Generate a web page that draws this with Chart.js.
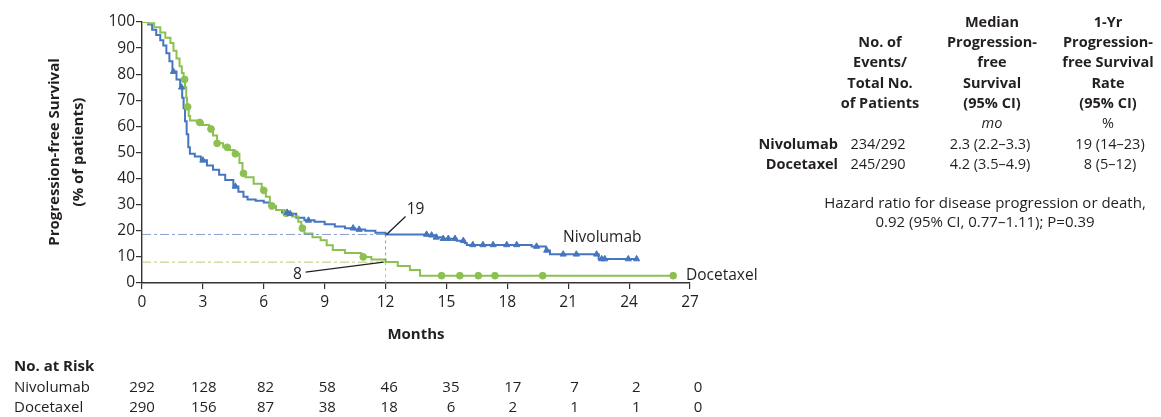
<!DOCTYPE html>
<html>
<head>
<meta charset="utf-8">
<script src="https://cdn.jsdelivr.net/npm/chart.js@4"></script>
<style>
  html, body { margin: 0; padding: 0; background: #fff; }
  #wrap { width: 1161px; height: 417px; position: relative; }
</style>
</head>
<body>
<div id="wrap"><canvas id="kmChart" width="1161" height="417"></canvas></div>
<script>
// Kaplan-Meier curves: [month, % progression-free]
var nivolumab = [
  [0, 100], [0.3, 99], [0.5, 97], [0.7, 95], [0.9, 93], [1.05, 91], [1.2, 88], [1.35, 85],
  [1.5, 81], [1.7, 78], [1.88, 75], [1.98, 71], [2.05, 67], [2.12, 62], [2.2, 57], [2.28, 52],
  [2.36, 49.5], [2.6, 48.5], [2.9, 47], [3.2, 45], [3.5, 43.4], [3.8, 41.5], [4.1, 39.5],
  [4.5, 37], [4.75, 35], [5.0, 33], [5.2, 32], [5.6, 31.5], [6.0, 30.8], [6.3, 29.5], [6.6, 28],
  [6.9, 27], [7.2, 26.5], [7.6, 25], [8.0, 24], [8.5, 23.5], [9.0, 22.5], [9.5, 21.6], [10.0, 21],
  [10.5, 20.5], [11.0, 20], [11.5, 19.3], [12.0, 18.6], [14.1, 18.3], [14.5, 17.5], [14.8, 17],
  [15.5, 16.2], [15.9, 15.3], [16.0, 14.6], [19.2, 14], [19.9, 12.5], [20.1, 11], [22.5, 9.2], [24.4, 9.2]
];
var docetaxel = [
  [0, 100], [0.3, 99.5], [0.6, 98], [0.9, 96], [1.15, 94], [1.4, 92], [1.55, 89], [1.7, 86],
  [1.85, 83], [1.96, 80.5], [2.05, 78], [2.12, 75], [2.18, 71], [2.22, 67.5], [2.3, 64], [2.37, 62.3],
  [2.7, 61.5], [3.0, 60.5], [3.3, 59], [3.5, 56.5], [3.7, 53.5], [4.0, 52], [4.3, 51], [4.55, 49.5],
  [4.8, 46], [4.95, 42], [5.1, 40.5], [5.5, 38], [5.9, 35.5], [6.1, 33], [6.3, 29.5], [6.6, 28],
  [7.0, 26.7], [7.4, 25.5], [7.7, 23.5], [7.85, 21], [8.0, 19], [8.4, 17.5], [8.8, 16.4], [9.1, 14.5],
  [9.4, 12.6], [10.0, 11.5], [10.8, 10], [11.3, 9], [12.0, 8], [12.6, 6.5], [13.2, 5], [13.7, 2.8], [26.2, 2.8]
];
// censoring times (months)
var nivolumabCensor = [1.55, 1.95, 3.0, 4.6, 7.15, 7.3, 8.2, 10.4, 10.7, 14.02, 14.27, 14.5, 14.84,
  15.09, 15.42, 15.83, 16.3, 16.8, 17.3, 17.97, 18.46, 19.44, 19.94, 20.75, 21.4, 22.4, 22.65, 22.8, 23.96, 24.37];
var docetaxelCensor = [2.1, 2.25, 2.85, 3.4, 3.7, 4.2, 4.6, 5.0, 6.0, 6.4, 7.1, 7.9, 10.9,
  14.76, 15.66, 16.57, 17.39, 19.74, 26.17];

var xTicks = [0, 3, 6, 9, 12, 15, 18, 21, 24, 27];
var yTicks = [0, 10, 20, 30, 40, 50, 60, 70, 80, 90, 100];
var riskNivolumab = [292, 128, 82, 58, 46, 35, 17, 7, 2, 0];
var riskDocetaxel = [290, 156, 87, 38, 18, 6, 2, 1, 1, 0];

var landmarkMonth = 12;
var nivolumabAt12 = 19;
var docetaxelAt12 = 8;

var tableHeader = [
  ['No. of', 'Events/', 'Total No.', 'of Patients'],
  ['Median', 'Progression-', 'free', 'Survival', '(95% CI)'],
  ['1-Yr', 'Progression-', 'free Survival', 'Rate', '(95% CI)']
];
var tableUnits = ['', 'mo', '%'];
var tableRows = [
  ['Nivolumab', '234/292', '2.3 (2.2\u20133.3)', '19 (14\u201323)'],
  ['Docetaxel', '245/290', '4.2 (3.5\u20134.9)', '8 (5\u201312)']
];
var hazardText = ['Hazard ratio for disease progression or death,', '0.92 (95% CI, 0.77\u20131.11); P=0.39'];

var BLUE = '#4676bf';
var GREEN = '#8cc152';
var INK = '#231f20';
var FONT = '"Open Sans", "Noto Sans", sans-serif';

function toPoints(arr) {
  return arr.map(function(p) { return { x: p[0], y: p[1] }; });
}
function censorPoints(curve, times) {
  return times.map(function(t) {
    var y = curve[0][1];
    for (var i = 0; i < curve.length; i++) {
      if (curve[i][0] <= t) y = curve[i][1];
    }
    return { x: t, y: y };
  });
}

var extras = {
  id: 'extras',
  afterDatasetsDraw: function(chart) {
    var ctx = chart.ctx;
    var xs = chart.scales.x, ys = chart.scales.y;
    var x12 = xs.getPixelForValue(landmarkMonth);
    var yN = ys.getPixelForValue(18.6);
    var yD = ys.getPixelForValue(docetaxelAt12);
    var x0 = xs.getPixelForValue(0);
    var yBase = ys.getPixelForValue(0);

    ctx.save();
    ctx.lineWidth = 1;
    ctx.setLineDash([9, 3, 3, 3]);
    ctx.strokeStyle = 'rgba(100,125,185,0.75)';
    ctx.beginPath(); ctx.moveTo(x0, yN); ctx.lineTo(x12, yN); ctx.stroke();
    ctx.setLineDash([3, 3]);
    ctx.beginPath(); ctx.moveTo(x12, yN); ctx.lineTo(x12, yD); ctx.stroke();
    ctx.setLineDash([9, 3, 3, 3]);
    ctx.strokeStyle = 'rgba(170,195,90,0.85)';
    ctx.beginPath(); ctx.moveTo(x0, yD); ctx.lineTo(x12, yD); ctx.stroke();
    ctx.setLineDash([3, 3]);
    ctx.beginPath(); ctx.moveTo(x12, yD); ctx.lineTo(x12, yBase); ctx.stroke();
    ctx.setLineDash([]);

    // leader lines and labels
    ctx.strokeStyle = '#222';
    ctx.lineWidth = 1.3;
    ctx.beginPath(); ctx.moveTo(x12 + 1, yN); ctx.lineTo(x12 + 20, yN - 18); ctx.stroke();
    ctx.beginPath(); ctx.moveTo(x12 - 2, yD); ctx.lineTo(x12 - 80, yD + 10); ctx.stroke();
    ctx.fillStyle = INK;
    ctx.font = '15.5px ' + FONT;
    ctx.textBaseline = 'middle';
    ctx.textAlign = 'center';
    ctx.fillText(String(nivolumabAt12), x12 + 30, yN - 25);
    ctx.fillText(String(docetaxelAt12), x12 - 88, yD + 12);

    ctx.textAlign = 'left';
    ctx.fillText('Nivolumab', 563, 238);
    ctx.fillText('Docetaxel', 686, 276);

    // axis titles
    ctx.font = 'bold 15px ' + FONT;
    ctx.textAlign = 'center';
    ctx.fillText('Months', xs.getPixelForValue(13.5), 335);
    ctx.save();
    ctx.translate(55, 152);
    ctx.rotate(-Math.PI / 2);
    ctx.fillText('Progression-free Survival', 0, 0);
    ctx.fillText('(% of patients)', 0, 24);
    ctx.restore();

    // number at risk
    ctx.textAlign = 'left';
    ctx.font = 'bold 15px ' + FONT;
    ctx.fillText('No. at Risk', 14, 367);
    ctx.font = '15px ' + FONT;
    ctx.fillText('Nivolumab', 14, 388);
    ctx.fillText('Docetaxel', 14, 408);
    ctx.textAlign = 'center';
    xTicks.forEach(function(t, i) {
      var px = xs.getPixelForValue(t) + i * 0.9;
      ctx.fillText(String(riskNivolumab[i]), px, 388);
      ctx.fillText(String(riskDocetaxel[i]), px, 408);
    });

    // summary table
    var colX = [880, 992, 1108];
    var lineH = 20.4;
    ctx.font = 'bold 14.5px ' + FONT;
    tableHeader.forEach(function(lines, c) {
      var start = 104 - (lines.length - 1) * lineH;
      lines.forEach(function(s, k) { ctx.fillText(s, colX[c], start + k * lineH); });
    });
    ctx.font = 'italic 14.5px ' + FONT;
    ctx.fillText(tableUnits[1], colX[1], 124);
    ctx.font = '14.5px ' + FONT;
    ctx.fillText(tableUnits[2], colX[2], 124);
    tableRows.forEach(function(r, k) {
      var yy = 145 + k * 20;
      ctx.font = 'bold 14.5px ' + FONT;
      ctx.textAlign = 'right';
      ctx.fillText(r[0], 838, yy);
      ctx.font = '14.5px ' + FONT;
      ctx.textAlign = 'center';
      ctx.fillText(r[1], colX[0] - 2, yy);
      ctx.fillText(r[2], colX[1] - 2, yy);
      ctx.fillText(r[3], colX[2] + 2, yy);
    });
    ctx.font = '15px ' + FONT;
    ctx.fillText(hazardText[0], 985, 204);
    ctx.fillText(hazardText[1], 985, 223);
    ctx.restore();
  }
};

var canvas = document.getElementById('kmChart');
var ctx = canvas.getContext('2d');
var kmChart = new Chart(ctx, {
  type: 'line',
  data: {
    datasets: [
      {
        label: 'Nivolumab', data: toPoints(nivolumab), borderColor: BLUE, borderWidth: 2,
        stepped: true, pointRadius: 0, fill: false, order: 2
      },
      {
        label: 'Docetaxel', data: toPoints(docetaxel), borderColor: GREEN, borderWidth: 2,
        stepped: true, pointRadius: 0, fill: false, order: 1
      },
      {
        type: 'scatter', label: 'Nivolumab censored', data: censorPoints(nivolumab, nivolumabCensor),
        pointStyle: 'triangle', pointRadius: 3.6, backgroundColor: BLUE, borderColor: BLUE, borderWidth: 1
      },
      {
        type: 'scatter', label: 'Docetaxel censored', data: censorPoints(docetaxel, docetaxelCensor),
        pointStyle: 'circle', pointRadius: 3.4, backgroundColor: GREEN, borderColor: GREEN, borderWidth: 1
      }
    ]
  },
  options: {
    responsive: false,
    animation: false,
    layout: { padding: { left: 0, top: 22, right: 471, bottom: 104 } },
    plugins: { legend: { display: false }, tooltip: { enabled: false } },
    scales: {
      x: {
        type: 'linear', min: 0, max: 27,
        afterFit: function(s) { s.height = 30; },
        afterBuildTicks: function(s) { s.ticks = xTicks.map(function(v) { return { value: v }; }); },
        grid: { display: true, drawOnChartArea: false, drawTicks: true, tickLength: 6, color: '#333', lineWidth: 1.2 },
        border: { display: true, color: '#333', width: 1.4 },
        ticks: { color: INK, font: { family: FONT, size: 15.5 }, padding: 4, maxRotation: 0 }
      },
      y: {
        min: 0, max: 100,
        afterFit: function(s) { s.width = 142; },
        afterBuildTicks: function(s) { s.ticks = yTicks.map(function(v) { return { value: v }; }); },
        grid: { display: true, drawOnChartArea: false, drawTicks: true, tickLength: 6, color: '#333', lineWidth: 1.2 },
        border: { display: true, color: '#333', width: 1.4 },
        ticks: { color: INK, font: { family: FONT, size: 15.5 }, padding: 1 }
      }
    }
  },
  plugins: [extras]
});
</script>
</body>
</html>
